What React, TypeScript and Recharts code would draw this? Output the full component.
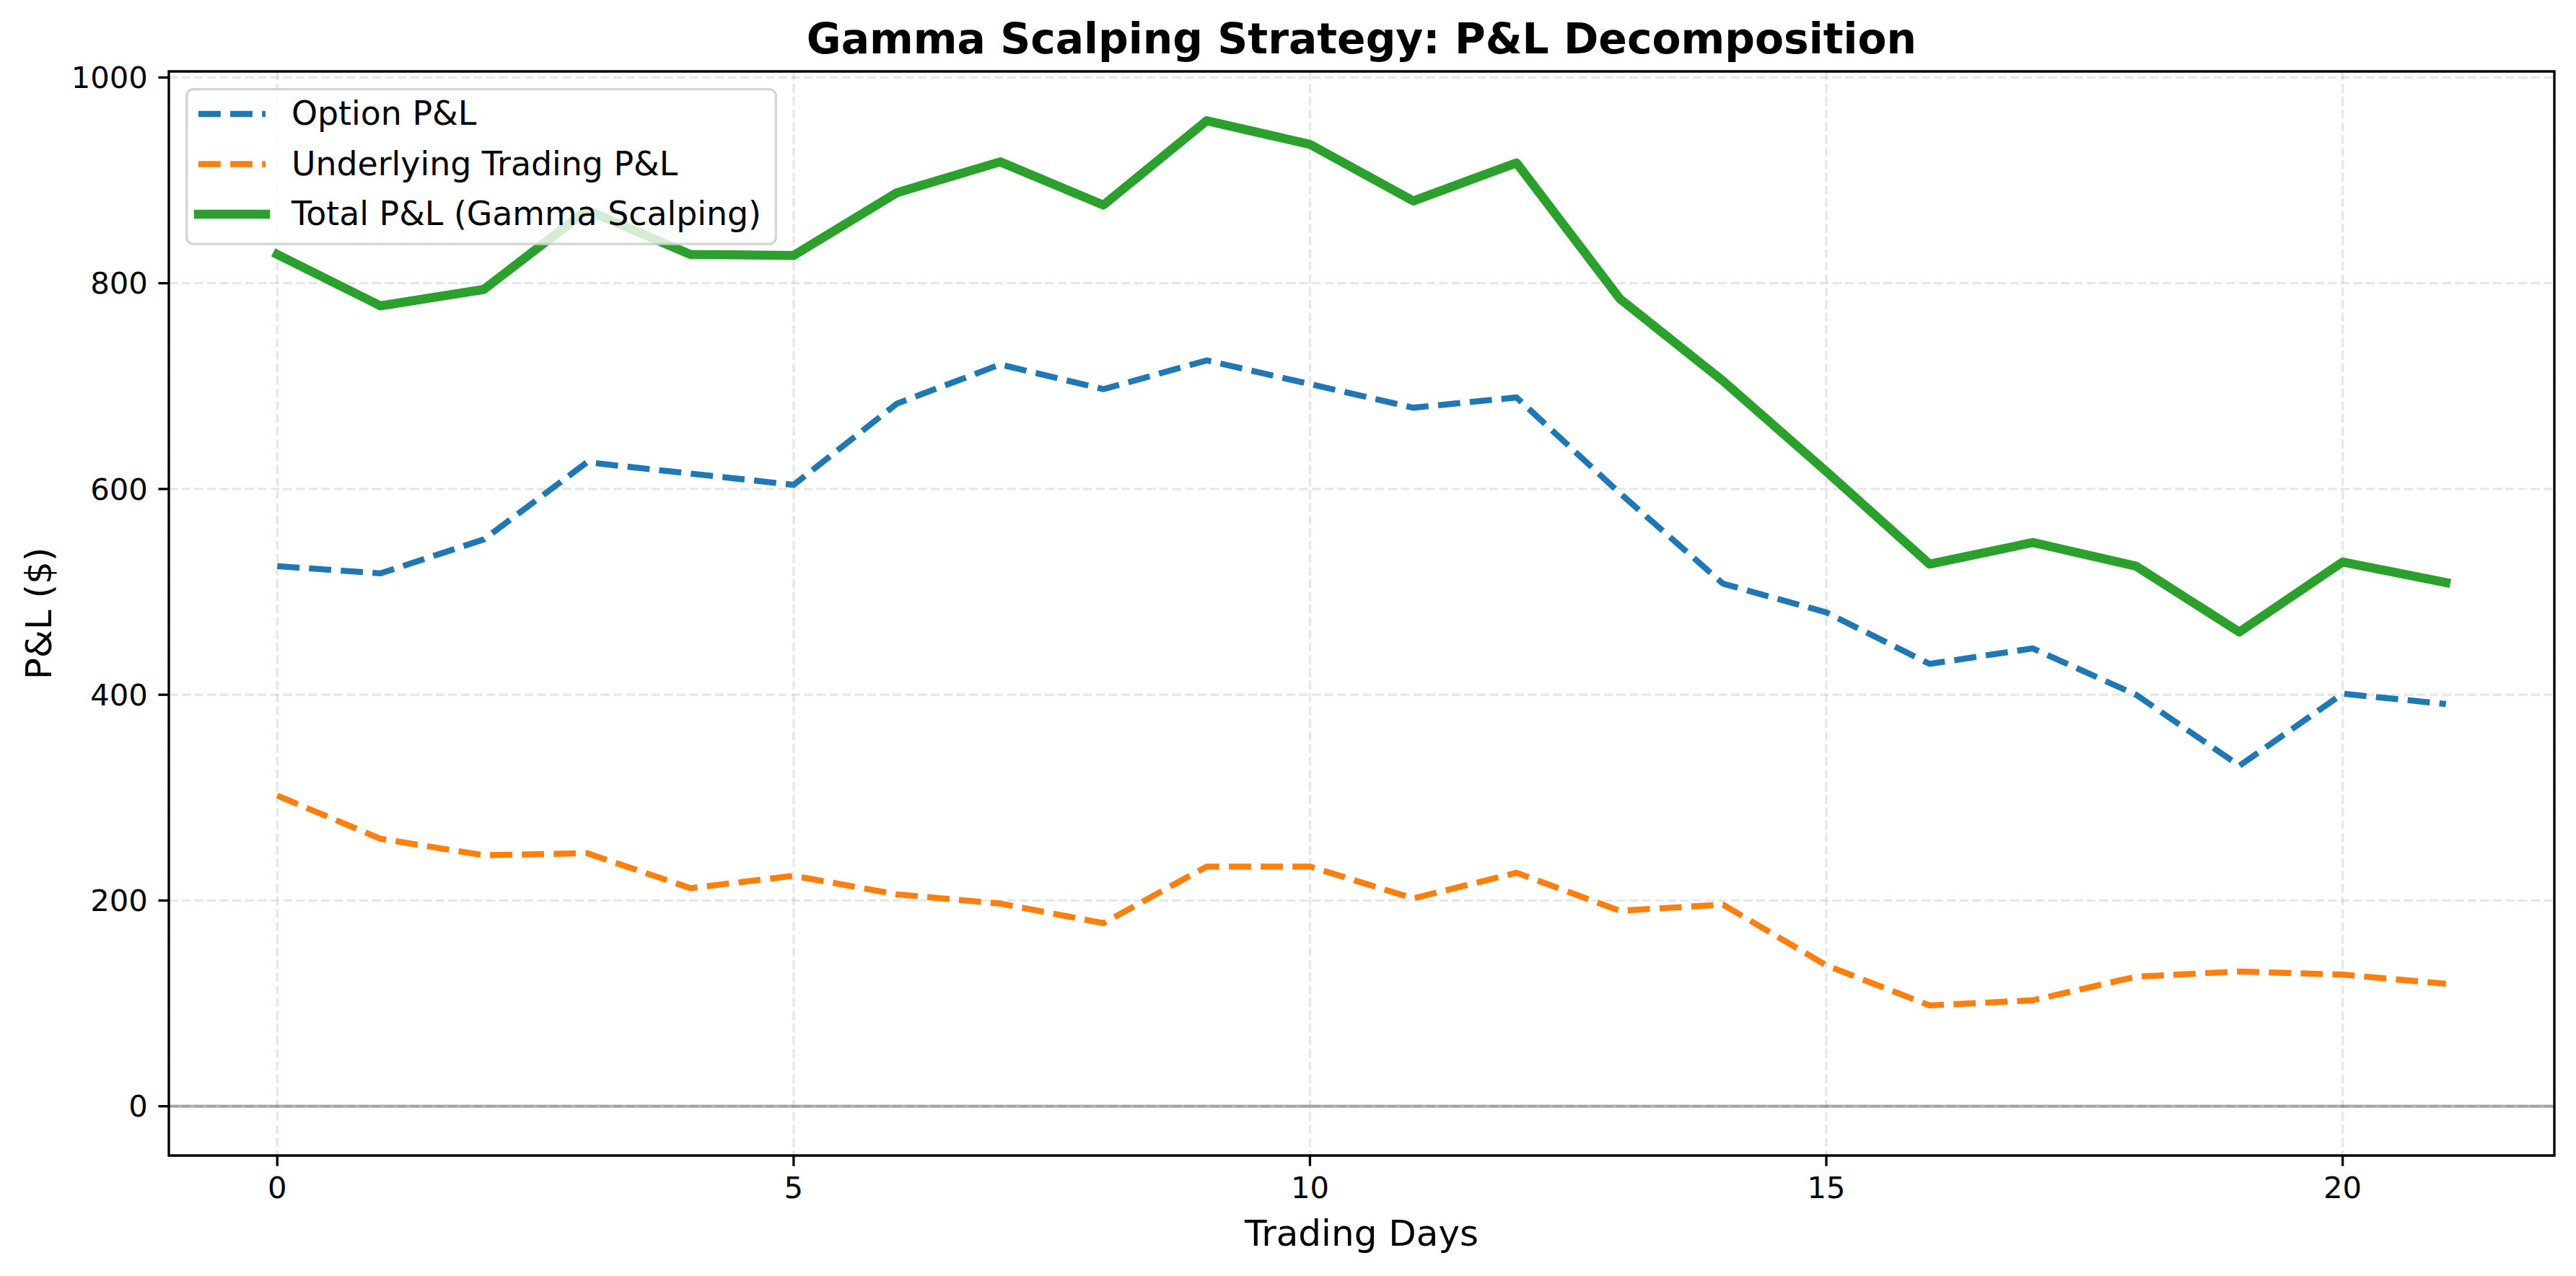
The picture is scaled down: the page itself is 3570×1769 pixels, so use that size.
import React from 'react';
import {
  LineChart,
  Line,
  XAxis,
  YAxis,
  CartesianGrid,
  Legend,
  ReferenceLine,
  ReferenceArea
} from 'recharts';

const FONT = 'DejaVu Sans';

// trading day index
const days = [0, 1, 2, 3, 4, 5, 6, 7, 8, 9, 10, 11, 12, 13, 14, 15, 16, 17, 18, 19, 20, 21];

const optionPnl = [525, 518, 551, 626, 615, 604, 683, 721, 697, 725, 702, 679, 689, 596, 508, 480, 430, 445, 400, 331, 401, 391];
const underlyingPnl = [302, 260, 244, 246, 212, 224, 206, 197, 178, 233, 233, 202, 227, 190, 196, 137, 98, 103, 126, 131, 128, 119];
const totalPnl = [828, 778, 794, 871, 828, 827, 888, 918, 876, 958, 935, 880, 917, 785, 705, 617, 527, 548, 525, 461, 529, 509];

const xTicks = [0, 5, 10, 15, 20];
const yTicks = [0, 200, 400, 600, 800, 1000];

// matplotlib-style 5% margins around the data
const X_DOMAIN: [number, number] = [-1.05, 22.05];
const Y_DOMAIN: [number, number] = [-47.9, 1005.9];

const data = days.map((day, i) => ({
  day,
  option: optionPnl[i],
  underlying: underlyingPnl[i],
  total: totalPnl[i]
}));

const SERIES = [
  { key: 'option', name: 'Option P&L', color: '#1f77b4', width: 8.33, dash: '30.8 13.3' },
  { key: 'underlying', name: 'Underlying Trading P&L', color: '#ff7f0e', width: 8.33, dash: '30.8 13.3' },
  { key: 'total', name: 'Total P&L (Gamma Scalping)', color: '#2ca02c', width: 12.5, dash: undefined }
];

const W = 3570;
const H = 1769;

const LegendBox = () => (
  <svg width={820} height={218} style={{ display: 'block' }}>
    <rect
      x={1.75}
      y={1.75}
      width={816.5}
      height={214.5}
      rx={9}
      ry={9}
      fill="#fff"
      fillOpacity={0.8}
      stroke="#cccccc"
      strokeOpacity={0.8}
      strokeWidth={3.5}
    />
    {SERIES.map((s, i) => (
      <g key={s.key}>
        <line
          x1={18}
          x2={111}
          y1={36 + 69.5 * i}
          y2={36 + 69.5 * i}
          stroke={s.color}
          strokeWidth={s.width}
          strokeDasharray={s.dash}
          strokeLinecap={s.dash ? 'butt' : 'square'}
        />
        <text x={147} y={51 + 69.5 * i} fontFamily={FONT} fontSize={45.8} fill="#000">
          {s.name}
        </text>
      </g>
    ))}
  </svg>
);

export default function App() {
  return (
    <div style={{ position: 'absolute', left: 0, top: 0, width: W, height: H, background: '#fff' }}>
      <svg width={W} height={H} style={{ position: 'absolute', left: 0, top: 0, pointerEvents: 'none' }}>
        <text x={1887} y={74} textAnchor="middle" fontFamily={FONT} fontWeight="bold" fontSize={58.3} fill="#000">
          Gamma Scalping Strategy: P&amp;L Decomposition
        </text>
        <text x={1887} y={1727} textAnchor="middle" fontFamily={FONT} fontSize={50} fill="#000">
          Trading Days
        </text>
        <text
          x={53}
          y={850.5}
          dy="0.35em"
          textAnchor="middle"
          transform="rotate(-90, 53, 850.5)"
          fontFamily={FONT}
          fontSize={50}
          fill="#000"
        >
          P&amp;L ($)
        </text>
      </svg>
      <div style={{ position: 'absolute', left: 0, top: 0 }}>
        <LineChart width={W} height={H} data={data} margin={{ top: 99, right: 30, bottom: 47, left: 114 }}>
          <CartesianGrid stroke="#b0b0b0" strokeOpacity={0.3} strokeWidth={3.33} strokeDasharray="12.3 5.3" />
          <XAxis
            dataKey="day"
            type="number"
            domain={X_DOMAIN}
            ticks={xTicks}
            height={120}
            axisLine={false}
            tickLine={{ stroke: '#000', strokeWidth: 3.33 }}
            tickSize={14.6}
            tickMargin={14.6}
            tick={{ fontSize: 41.7, fill: '#000', fontFamily: FONT }}
            allowDataOverflow
          />
          <YAxis
            type="number"
            domain={Y_DOMAIN}
            ticks={yTicks}
            width={120}
            axisLine={false}
            tickLine={{ stroke: '#000', strokeWidth: 3.33 }}
            tickSize={14.6}
            tickMargin={14.6}
            tick={{ fontSize: 41.7, fill: '#000', fontFamily: FONT }}
            allowDataOverflow
          />
          {SERIES.map(s => (
            <Line
              key={s.key}
              type="linear"
              dataKey={s.key}
              name={s.name}
              stroke={s.color}
              strokeWidth={s.width}
              strokeDasharray={s.dash}
              strokeLinecap={s.dash ? 'butt' : 'square'}
              strokeLinejoin="round"
              dot={false}
              activeDot={false}
              isAnimationActive={false}
            />
          ))}
          <ReferenceLine y={0} stroke="#000" strokeOpacity={0.3} strokeWidth={4.17} />
          <ReferenceArea
            x1={X_DOMAIN[0]}
            x2={X_DOMAIN[1]}
            y1={Y_DOMAIN[0]}
            y2={Y_DOMAIN[1]}
            fill="none"
            stroke="#000"
            strokeWidth={3.33}
            ifOverflow="visible"
          />
          <Legend
            layout="vertical"
            align="center"
            verticalAlign="middle"
            content={() => <LegendBox />}
            wrapperStyle={{ left: 257, top: 122, width: 820, height: 218 }}
          />
        </LineChart>
      </div>
    </div>
  );
}
